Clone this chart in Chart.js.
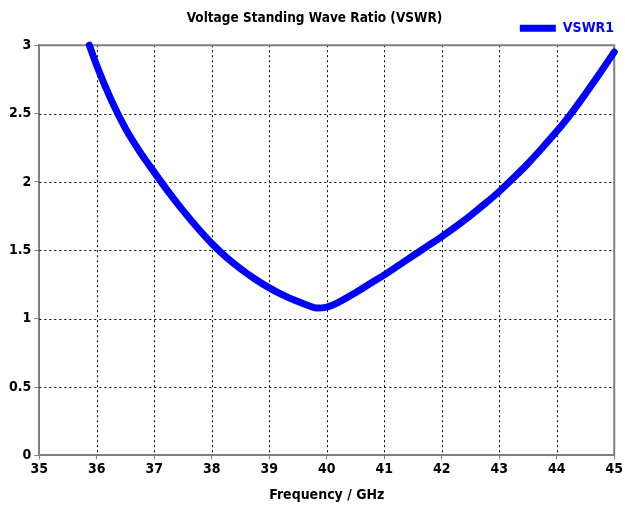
<!DOCTYPE html>
<html>
<head>
<meta charset="utf-8">
<script src="https://cdn.jsdelivr.net/npm/chart.js@4/dist/chart.umd.min.js"></script>
<style>
  html, body { margin: 0; padding: 0; background: #fff; }
  #wrap { width: 625px; height: 507px; }
</style>
</head>
<body>
<div id="wrap"><canvas id="vswrChart" width="625" height="507"></canvas></div>
<script>
// VSWR sweep
const freqGHz = [35.87, 36.0, 36.25, 36.5, 36.75, 37.0, 37.25, 37.5, 37.75, 38.0, 38.25, 38.5, 38.75, 39.0,
  39.25, 39.5, 39.75, 39.82, 40.0, 40.25, 40.5, 40.75, 41.0, 41.25, 41.5, 41.75, 42.0, 42.25, 42.5,
  42.75, 43.0, 43.25, 43.5, 43.75, 44.0, 44.25, 44.5, 44.75, 45.0];
const vswr1 = [3.0, 2.85, 2.60, 2.39, 2.22, 2.07, 1.925, 1.79, 1.665, 1.55, 1.45, 1.365, 1.29, 1.225,
  1.17, 1.125, 1.085, 1.078, 1.085, 1.13, 1.19, 1.255, 1.32, 1.39, 1.46, 1.53, 1.60, 1.675, 1.755,
  1.84, 1.93, 2.03, 2.135, 2.25, 2.37, 2.50, 2.645, 2.795, 2.95];
const X_MIN = 35, X_MAX = 45, X_STEP = 1;
const Y_MIN = 0, Y_MAX = 3, Y_STEP = 0.5;

const FONT = '"DejaVu Sans Condensed", "DejaVu Sans", Verdana, sans-serif';
const BLUE = '#0000ff';
const FRAME = '#808080';

// dotted grid + top/right frame, like the original plot
const gridDash = {
  id: 'gridDash',
  beforeDatasetsDraw(chart) {
    const { ctx, chartArea: a, scales: { x, y } } = chart;
    ctx.save();
    ctx.strokeStyle = '#000';
    ctx.lineWidth = 1;
    ctx.setLineDash([2, 3]);
    for (let v = X_MIN + X_STEP; v < X_MAX; v += X_STEP) {
      const px = Math.round(x.getPixelForValue(v)) + 0.5;
      ctx.beginPath(); ctx.moveTo(px, a.top); ctx.lineTo(px, a.bottom); ctx.stroke();
    }
    for (let v = Y_MIN + Y_STEP; v < Y_MAX; v += Y_STEP) {
      const py = Math.round(y.getPixelForValue(v)) + 0.5;
      ctx.beginPath(); ctx.moveTo(a.left, py); ctx.lineTo(a.right, py); ctx.stroke();
    }
    ctx.setLineDash([]);
    ctx.strokeStyle = FRAME;
    ctx.lineWidth = 2;
    ctx.beginPath();
    ctx.moveTo(a.left, a.top); ctx.lineTo(a.right, a.top); ctx.lineTo(a.right, a.bottom);
    ctx.stroke();
    ctx.restore();
  }
};

const tickFont = { family: FONT, size: 14, weight: 'bold' };

new Chart(document.getElementById('vswrChart'), {
  type: 'line',
  data: {
    datasets: [{
      label: 'VSWR1',
      data: freqGHz.map((f, i) => ({ x: f, y: vswr1[i] })),
      borderColor: BLUE, backgroundColor: BLUE,
      borderWidth: 7, pointRadius: 0, tension: 0.4, cubicInterpolationMode: 'monotone',
      borderCapStyle: 'round', borderJoinStyle: 'round', clip: false,
    }]
  },
  options: {
    responsive: false, animation: false,
    layout: { padding: { left: 6, right: 2, top: 0, bottom: 3 } },
    plugins: {
      title: { display: true, text: 'Voltage Standing Wave Ratio (VSWR)', color: '#000',
        font: { family: FONT, size: 13.5, weight: 'bold' }, padding: { top: 10, bottom: -14 } },
      legend: { display: true, position: 'top', align: 'end',
        labels: { color: BLUE, font: { family: FONT, size: 14, weight: 'bold' },
          usePointStyle: true, pointStyle: 'line', pointStyleWidth: 36, padding: 9 } },
      tooltip: { enabled: false },
    },
    scales: {
      x: { type: 'linear', min: X_MIN, max: X_MAX,
        grid: { drawOnChartArea: false, color: FRAME, tickColor: FRAME, tickLength: 4, tickWidth: 1 },
        border: { color: FRAME, width: 2 },
        ticks: { stepSize: X_STEP, color: '#000', font: tickFont, padding: 2 },
        title: { display: true, text: 'Frequency / GHz', color: '#000',
          font: tickFont, padding: { top: 7, bottom: 0 } } },
      y: { min: Y_MIN, max: Y_MAX,
        grid: { drawOnChartArea: false, color: FRAME, tickColor: FRAME, tickLength: 5, tickWidth: 1 },
        border: { color: FRAME, width: 2 },
        ticks: { stepSize: Y_STEP, color: '#000', font: tickFont, padding: 3,
          callback: (v) => String(v) } },
    },
  },
  plugins: [gridDash],
});
</script>
</body>
</html>
